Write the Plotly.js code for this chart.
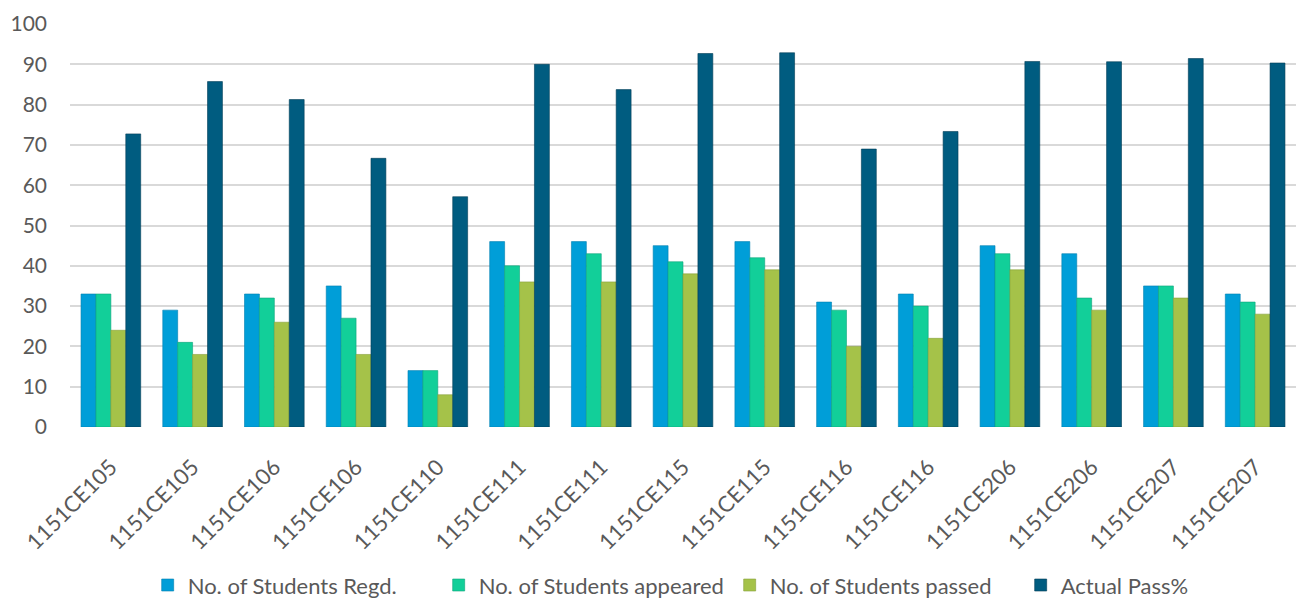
<!DOCTYPE html>
<html>
<head>
<meta charset="utf-8">
<script src="https://cdn.plot.ly/plotly-3.0.1.min.js"></script>
<style>
html,body{margin:0;padding:0;background:#fff;}
#chart{width:1303px;height:599px;}
</style>
</head>
<body>
<div id="chart"></div>
<script>
const categories = ["1151CE105","1151CE105","1151CE106","1151CE106","1151CE110","1151CE111","1151CE111","1151CE115","1151CE115","1151CE116","1151CE116","1151CE206","1151CE206","1151CE207","1151CE207"];
const regd     = [33, 29, 33, 35, 14, 46, 46, 45, 46, 31, 33, 45, 43, 35, 33];
const appeared = [33, 21, 32, 27, 14, 40, 43, 41, 42, 29, 30, 43, 32, 35, 31];
const passed   = [24, 18, 26, 18, 8, 36, 36, 38, 39, 20, 22, 39, 29, 32, 28];
const passPct  = [72.73, 85.71, 81.25, 66.67, 57.14, 90.00, 83.72, 92.68, 92.86, 68.97, 73.33, 90.70, 90.63, 91.43, 90.32];
const seriesNames = ["No. of Students Regd.", "No. of Students appeared", "No. of Students passed", "Actual Pass%"];
const yTicks = [0,10,20,30,40,50,60,70,80,90,100];

const colors = ["#009ED8", "#12CF99", "#A5C249", "#005C80"];
const edge = ["#0080B0", "#0DA57A", "#86A03A", "#003C55"];
const idx = categories.map((_, i) => i);
const data = [regd, appeared, passed, passPct].map((vals, k) => ({
  type: "bar",
  name: seriesNames[k],
  x: idx,
  y: vals,
  marker: {color: colors[k], line: {color: edge[k], width: 0.6}},
  hoverinfo: "y+name"
}));

const fam = "Lato, 'Open Sans', sans-serif";
const layout = {
  width: 1303, height: 599,
  margin: {l: 70, r: 7, t: 24, b: 172},
  paper_bgcolor: "#fff", plot_bgcolor: "#fff",
  barmode: "group",
  bargap: 0.27,
  bargroupgap: 0,
  font: {family: fam, size: 21, color: "#595959"},
  showlegend: true,
  legend: {
    orientation: "h",
    xref: "container", yref: "container",
    x: 0.56, xanchor: "center",
    y: 0.023, yanchor: "middle",
    font: {family: fam, size: 22, color: "#595959"},
    itemwidth: 30,
    entrywidth: 246,
    entrywidthmode: "pixels",
    traceorder: "normal"
  },
  xaxis: {
    range: [-0.5, 14.5],
    tickmode: "array",
    tickvals: idx,
    ticktext: categories,
    tickangle: -45,
    showgrid: false,
    zeroline: false,
    showline: false,
    ticks: "",
    tickfont: {family: fam, size: 22, color: "#595959"},
    ticklabelstandoff: 22,
    automargin: false,
    fixedrange: true
  },
  yaxis: {
    range: [0, 100],
    tickmode: "array",
    tickvals: yTicks,
    showgrid: true,
    gridcolor: "#D9D9D9",
    gridwidth: 2,
    zeroline: false,
    showline: false,
    ticks: "",
    tickfont: {family: fam, size: 21, color: "#595959"},
    ticklabelstandoff: 22,
    automargin: false,
    fixedrange: true
  }
};

Plotly.newPlot("chart", data, layout, {displayModeBar: false, staticPlot: true});
</script>
</body>
</html>
